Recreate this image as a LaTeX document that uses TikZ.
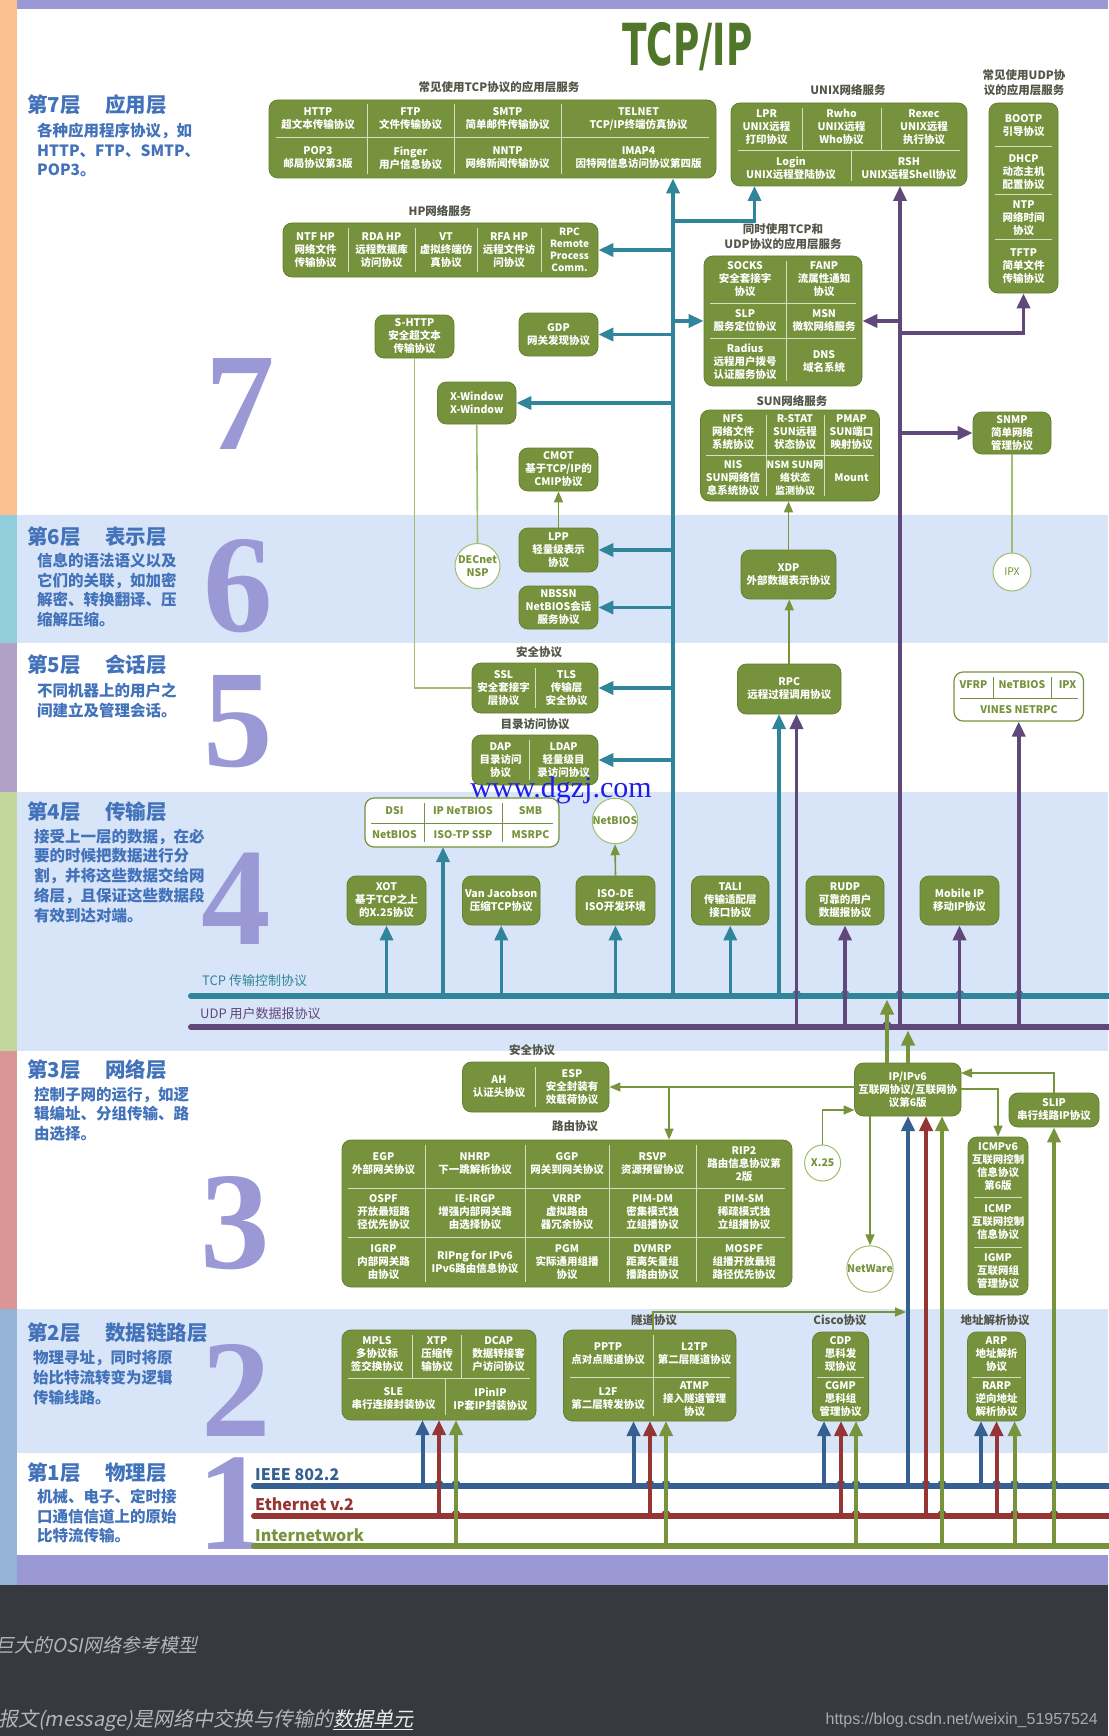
\documentclass[tikz,border=0pt]{standalone}
\usepackage{fontspec}
\setmainfont{Noto Sans CJK SC}
\newfontfamily\numfont{Liberation Serif}
\newfontfamily\headfont{Liberation Sans}
\newfontfamily\logofont{DejaVu Sans}
\newfontfamily\capfont{Noto Sans CJK SC}[FakeSlant=0.2]
\usetikzlibrary{arrows.meta}

\definecolor{boxgreen}{RGB}{118,146,60}
\definecolor{boxedge}{RGB}{100,128,48}
\definecolor{tcpc}{RGB}{49,133,155}
\definecolor{udpc}{RGB}{96,73,122}
\definecolor{ieeec}{RGB}{54,96,146}
\definecolor{ethc}{RGB}{150,54,52}
\definecolor{inetc}{RGB}{119,147,60}
\definecolor{lightline}{RGB}{160,190,112}
\definecolor{lav}{RGB}{155,152,214}
\definecolor{bandblue}{RGB}{216,228,248}
\definecolor{titlec}{RGB}{66,114,186}
\definecolor{labelc}{RGB}{82,86,72}
\definecolor{footbg}{RGB}{54,58,63}
\definecolor{capc}{RGB}{178,182,186}
\definecolor{capw}{RGB}{236,236,236}
\definecolor{urlc}{RGB}{168,170,172}
\definecolor{wmblue}{RGB}{30,30,235}
\definecolor{titlegreen}{RGB}{80,118,42}
\definecolor{st7}{RGB}{250,192,143}
\definecolor{st6}{RGB}{146,205,220}
\definecolor{st5}{RGB}{178,161,199}
\definecolor{st4}{RGB}{195,214,155}
\definecolor{st3}{RGB}{217,150,148}
\definecolor{st2}{RGB}{149,179,215}

\newcommand\cellfont{\fontsize{10.5}{13}\selectfont\bfseries}
\newcommand\pbox[7][gbox]{%
  \node[#1,minimum width={#5-#3},minimum height={#6-#4}] (#2) at ({(#3+#5)/2},{(#4+#6)/2}) {#7};}
\newcommand\hop[3]{\fill[#3] (#1,#2-1.5) circle (4.5);}

\tikzset{
  gbox/.style={draw=boxedge,line width=0.8pt,fill=boxgreen,rounded corners=9pt,
    text=white,font=\cellfont,align=center,inner sep=1pt},
  wbox/.style={draw=boxgreen,line width=1.2pt,fill=white,rounded corners=9pt},
  cell/.style={text=white,font=\cellfont,align=center,inner sep=0pt},
  wcell/.style={text=boxgreen,font=\cellfont,align=center,inner sep=0pt},
  sep/.style={draw=white!70!boxgreen,line width=1pt},
  wsep/.style={draw=boxgreen,line width=1pt},
  ring/.style={circle,draw=lightline,line width=1pt,fill=white,text=boxgreen,
    font=\cellfont,align=center,inner sep=0pt},
  grouplabel/.style={text=labelc,font=\fontsize{11.5}{14.5}\selectfont\bfseries,align=center,inner sep=0pt},
  layertitle/.style={anchor=west,text=titlec,font=\fontsize{20.5}{21}\selectfont\bfseries,inner sep=0pt},
  layerdesc/.style={anchor=north west,text=titlec,font=\fontsize{15.5}{19.9}\selectfont\bfseries,
    align=left,inner sep=0pt},
  bignum/.style={anchor=south,text=lav,font=\numfont\bfseries\fontsize{139}{139}\selectfont,inner sep=0pt},
  buslabel/.style={anchor=west,font=\fontsize{16}{16}\selectfont\bfseries,inner sep=0pt},
  bus/.style={line width=6pt,line cap=round},
  head/.style={-{Triangle[length=15pt,width=13pt]}},
  tcpa/.style={draw=tcpc,line width=3.5pt,head},
  udpa/.style={draw=udpc,line width=3.5pt,head},
  ieeea/.style={draw=ieeec,line width=4pt,head},
  etha/.style={draw=ethc,line width=4pt,head},
  ineta/.style={draw=inetc,line width=4pt,head},
  thina/.style={draw=inetc,line width=1.6pt,-{Triangle[length=11pt,width=9pt]}},
  thinl/.style={draw=lightline,line width=1.6pt},
}

\begin{document}
\begin{tikzpicture}[x=1pt,y=-1pt]
\useasboundingbox (0,0) rectangle (1108,1736);
% bands
\fill[white] (0,0) rectangle (1108,1585);
\fill[lav] (0,0) rectangle (1108,9);
\fill[bandblue] (17,515) rectangle (1108,643);
\fill[bandblue] (17,792) rectangle (1108,1051);
\fill[bandblue] (17,1309) rectangle (1108,1453);
\fill[lav] (0,1555) rectangle (1108,1585);
\fill[footbg] (0,1585) rectangle (1108,1736);
\fill[st7] (0,0) rectangle (17,515);
\fill[st6] (0,515) rectangle (17,643);
\fill[st5] (0,643) rectangle (17,792);
\fill[st4] (0,792) rectangle (17,1051);
\fill[st3] (0,1051) rectangle (17,1309);
\fill[st2] (0,1309) rectangle (17,1585);

\node[bignum] (n7) at (240,450) {7};
\node[bignum] (n6) at (238,633) {6};
\node[bignum] (n5) at (238,768) {5};
\node[bignum] (n4) at (236.5,945) {4};
\node[bignum] (n3) at (235.5,1270) {3};
\node[bignum] (n2) at (236.5,1437) {2};
\node[bignum] (n1) at (232,1550) {1};

\node[layertitle] (t7) at (27,105) {第7层\hspace{1.2em}应用层};
\node[layerdesc] (d7) at (37,122.5) {各种应用程序协议，如\\HTTP、FTP、SMTP、\\POP3。};
\node[layertitle] (t6) at (27,537) {第6层\hspace{1.2em}表示层};
\node[layerdesc] (d6) at (37,552.5) {信息的语法语义以及\\它们的关联，如加密\\解密、转换翻译、压\\缩解压缩。};
\node[layertitle] (t5) at (27,665) {第5层\hspace{1.2em}会话层};
\node[layerdesc] (d5) at (37,682.5) {不同机器上的用户之\\间建立及管理会话。};
\node[layertitle] (t4) at (27,812) {第4层\hspace{1.2em}传输层};
\node[layerdesc] (d4) at (34,828.5) {接受上一层的数据，在必\\要的时候把数据进行分\\割，并将这些数据交给网\\络层，且保证这些数据段\\有效到达对端。};
\node[layertitle] (t3) at (27,1070) {第3层\hspace{1.2em}网络层};
\node[layerdesc] (d3) at (34,1086.5) {控制子网的运行，如逻\\辑编址、分组传输、路\\由选择。};
\node[layertitle] (t2) at (27,1333) {第2层\hspace{1.2em}数据链路层};
\node[layerdesc] (d2) at (33,1350.5) {物理寻址，同时将原\\始比特流转变为逻辑\\传输线路。};
\node[layertitle] (t1) at (27,1473) {第1层\hspace{1.2em}物理层};
\node[layerdesc] (d1) at (37,1488.5) {机械、电子、定时接\\口通信信道上的原始\\比特流传输。};

\node[anchor=base,text=titlegreen,font=\logofont\bfseries\fontsize{58}{58}\selectfont,xscale=0.62,inner sep=0pt] (tcpip) at (687.5,66) {TCP/IP};

% group labels
\node[grouplabel] (lb-tcp) at (499,87) {常见使用TCP协议的应用层服务};
\node[grouplabel] (lb-hp) at (440,211) {HP网络服务};
\node[grouplabel] (lb-unix) at (848,90) {UNIX网络服务};
\node[grouplabel] (lb-udp) at (1024,82.5) {常见使用UDP协\\议的应用层服务};
\node[grouplabel] (lb-both) at (783,236.5) {同时使用TCP和\\UDP协议的应用层服务};
\node[grouplabel] (lb-sun) at (792,401) {SUN网络服务};
\node[grouplabel] (lb-sec5) at (539,652) {安全协议};
\node[grouplabel] (lb-dir) at (535,724) {目录访问协议};
\node[grouplabel] (lb-sec3) at (532,1050) {安全协议};
\node[grouplabel] (lb-route) at (575,1126) {路由协议};
\node[grouplabel] (lb-tun) at (654,1320) {隧道协议};
\node[grouplabel] (lb-cisco) at (840,1320) {Cisco协议};
\node[grouplabel] (lb-arp) at (995,1320) {地址解析协议};

% buses
\coordinate (tcpbus) at (0,996);
\coordinate (udpbus) at (0,1027);
\coordinate (tcpbot) at (0,999.5);
\coordinate (udpbot) at (0,1030.5);
\coordinate (ieeebus) at (0,1486);
\coordinate (ethbus) at (0,1516);
\coordinate (inetbus) at (0,1546);
\draw[bus,tcpc] (191,996) -- (1120,996);
\draw[bus,udpc] (191,1027) -- (1120,1027);
\draw[bus,ieeec] (254,1486) -- (1120,1486);
\draw[bus,ethc] (254,1516) -- (1120,1516);
\draw[bus,inetc] (254,1546) -- (1120,1546);
\node[anchor=west,text=tcpc,font=\fontsize{13}{13}\selectfont,inner sep=0pt] (tcplab) at (202,981) {TCP 传输控制协议};
\node[anchor=west,text=udpc,font=\fontsize{13}{13}\selectfont,inner sep=0pt] (udplab) at (200,1014) {UDP 用户数据报协议};
\node[buslabel,text=ieeec] (ieeelab) at (255,1475) {IEEE 802.2};
\node[buslabel,text=ethc] (ethlab) at (255,1504) {Ethernet v.2};
\node[buslabel,text=inetc] (inetlab) at (255,1535) {Internetwork};

\foreach \hx in {796.5,845,900,960,1019} {\hop{\hx}{996}{tcpc}}
\hop{887}{1027}{udpc}
\foreach \hx in {439,456,650,666,841,856,926,942,996.5,1014.6,1054} {\hop{\hx}{1486}{ieeec}}
\foreach \hx in {456,666,856,942,1014.6,1054} {\hop{\hx}{1516}{ethc}}

% layer 7
\pbox{tcpapps}{269}{100}{716}{178}{}
\draw[sep] (367,104) -- (367,174) (454,104) -- (454,174) (561,104) -- (561,174) (276,138) -- (709,138);
\node[cell] (c-http) at (318,119) {HTTP\\超文本传输协议};
\node[cell] (c-ftp) at (410.5,119) {FTP\\文件传输协议};
\node[cell] (c-smtp) at (507.5,119) {SMTP\\简单邮件传输协议};
\node[cell] (c-telnet) at (638.5,119) {TELNET\\TCP/IP终端仿真协议};
\node[cell] (c-pop3) at (318,158) {POP3\\邮局协议第3版};
\node[cell] (c-finger) at (410.5,158) {Finger\\用户信息协议};
\node[cell] (c-nntp) at (507.5,158) {NNTP\\网络新闻传输协议};
\node[cell] (c-imap) at (638.5,158) {IMAP4\\因特网信息访问协议第四版};

\pbox{hpbox}{283}{223}{598}{277}{}
\draw[sep] (348,228) -- (348,272) (415,228) -- (415,272) (477,228) -- (477,272) (541,228) -- (541,272);
\node[cell] (c-ntf) at (315.5,250) {NTF HP\\网络文件\\传输协议};
\node[cell] (c-rda) at (381.5,250) {RDA HP\\远程数据库\\访问协议};
\node[cell] (c-vt) at (446,250) {VT\\虚拟终端仿\\真协议};
\node[cell] (c-rfa) at (509,250) {RFA HP\\远程文件访\\问协议};
\node[cell,font=\fontsize{10}{12}\selectfont\bfseries] (c-rpchp) at (569.5,250) {RPC\\Remote\\Process\\Comm.};

\pbox{unix}{731}{103}{967}{186}{}
\draw[sep] (802,108) -- (802,151) (881,108) -- (881,151) (738,151) -- (960,151) (851,151) -- (851,181);
\node[cell] (c-lpr) at (766.5,127) {LPR\\UNIX远程\\打印协议};
\node[cell] (c-rwho) at (841.5,127) {Rwho\\UNIX远程\\Who协议};
\node[cell] (c-rexec) at (924,127) {Rexec\\UNIX远程\\执行协议};
\node[cell] (c-login) at (791,168.5) {Login\\UNIX远程登陆协议};
\node[cell] (c-rsh) at (909,168.5) {RSH\\UNIX远程Shell协议};

\pbox{udpapps}{989}{103}{1058}{293}{}
\draw[sep] (995,147) -- (1052,147) (995,195) -- (1052,195) (995,240) -- (1052,240);
\node[cell] (c-bootp) at (1023.5,125.5) {BOOTP\\引导协议};
\node[cell] (c-dhcp) at (1023.5,172) {DHCP\\动态主机\\配置协议};
\node[cell] (c-ntp) at (1023.5,218) {NTP\\网络时间\\协议};
\node[cell] (c-tftp) at (1023.5,266.5) {TFTP\\简单文件\\传输协议};

\pbox{both}{704}{256}{862}{386}{}
\draw[sep] (786,261) -- (786,381) (710,303) -- (856,303) (710,338) -- (856,338);
\node[cell] (c-socks) at (745,279.5) {SOCKS\\安全套接字\\协议};
\node[cell] (c-fanp) at (824,279.5) {FANP\\流属性通知\\协议};
\node[cell] (c-slp) at (745,320.5) {SLP\\服务定位协议};
\node[cell] (c-msn) at (824,320.5) {MSN\\微软网络服务};
\node[cell] (c-radius) at (745,362) {Radius\\远程用户拨号\\认证服务协议};
\node[cell] (c-dns) at (824,362) {DNS\\域名系统};

\pbox{shttp}{375}{315}{454}{358}{S-HTTP\\安全超文本\\传输协议}
\pbox{gdp}{519}{313}{598}{356}{GDP\\网关发现协议}
\pbox{xwin}{437.5}{382}{516}{424}{X-Window\\X-Window}
\pbox{cmot}{519}{448}{598}{491}{CMOT\\基于TCP/IP的\\CMIP协议}

\pbox{sun}{700.5}{410}{879.5}{501}{}
\draw[sep] (766,415) -- (766,496) (824,415) -- (824,496) (706,455) -- (874,455);
\node[cell] (c-nfs) at (733,432.5) {NFS\\网络文件\\系统协议};
\node[cell] (c-rstat) at (795,432.5) {R-STAT\\SUN远程\\状态协议};
\node[cell] (c-pmap) at (851.5,432.5) {PMAP\\SUN端口\\映射协议};
\node[cell] (c-nis) at (733,478) {NIS\\SUN网络信\\息系统协议};
\node[cell,font=\fontsize{10}{13}\selectfont\bfseries] (c-nsm) at (795,478) {NSM SUN网\\络状态\\监测协议};
\node[cell] (c-mount) at (851.5,478) {Mount};

\pbox{snmp}{973}{412}{1051}{454}{SNMP\\简单网络\\管理协议}
\node[ring,minimum size=38pt,font=\fontsize{10.5}{13}\selectfont] (ipx) at (1012,572) {IPX};

% layer 6
\node[ring,minimum size=45pt] (decnet) at (477.5,566) {DECnet\\NSP};
\pbox{lpp}{519}{528}{598}{572}{LPP\\轻量级表示\\协议}
\pbox{nbssn}{519}{586}{598}{629}{NBSSN\\NetBIOS会话\\服务协议}
\pbox{xdp}{741}{550}{836}{599}{XDP\\外部数据表示协议}

% layer 5
\pbox{ssltls}{472}{663}{598}{713}{}
\draw[sep] (535,668) -- (535,708);
\node[cell] (c-ssl) at (503.5,688) {SSL\\安全套接字\\层协议};
\node[cell] (c-tls) at (566.5,688) {TLS\\传输层\\安全协议};
\pbox{dirbox}{472}{735}{598}{785}{}
\draw[sep] (529,740) -- (529,780);
\node[cell] (c-dap) at (500.5,760) {DAP\\目录访问\\协议};
\node[cell] (c-ldap) at (563.5,760) {LDAP\\轻量级目\\录访问协议};
\pbox{rpc}{737.5}{664}{841}{714}{RPC\\远程过程调用协议}
\pbox[wbox]{vines}{954}{672}{1083.5}{721}{}
\draw[wsep] (993,677) -- (993,698) (1051.6,677) -- (1051.6,698) (960,698) -- (1078,698);
\node[wcell] (c-vfrp) at (973.5,685) {VFRP};
\node[wcell] (c-netbios2) at (1022,685) {NeTBIOS};
\node[wcell] (c-ipx2) at (1067.5,685) {IPX};
\node[wcell] (c-vines) at (1019,709.5) {VINES NETRPC};

\node[anchor=base,text=wmblue,font=\numfont\fontsize{30}{30}\selectfont,inner sep=0pt] (wm) at (561,797) {www.dgzj.com};

% layer 4
\pbox[wbox]{dsibox}{365}{798}{559}{847}{}
\draw[wsep] (424,803) -- (424,842) (502,803) -- (502,842) (371,823) -- (553,823);
\node[wcell] (c-dsi) at (394.5,811) {DSI};
\node[wcell] (c-ipnb) at (463,811) {IP NeTBIOS};
\node[wcell] (c-smb) at (530.5,811) {SMB};
\node[wcell] (c-nb) at (394.5,835) {NetBIOS};
\node[wcell] (c-isotp) at (463,835) {ISO-TP SSP};
\node[wcell] (c-msrpc) at (530.5,835) {MSRPC};
\node[ring,minimum size=44pt] (netbios) at (615,821) {NetBIOS};
\pbox{xot}{347}{876}{426}{925}{XOT\\基于TCP之上\\的X.25协议}
\pbox{vanj}{462.5}{876}{540}{925}{Van Jacobson\\压缩TCP协议}
\pbox{isode}{576}{876}{655}{925}{ISO-DE\\ISO开发环境}
\pbox{tali}{691.5}{876}{769}{925}{TALI\\传输适配层\\接口协议}
\pbox{rudp}{806}{876}{884}{925}{RUDP\\可靠的用户\\数据报协议}
\pbox{mobip}{920}{876}{999}{925}{Mobile IP\\移动IP协议}

% layer 3
\pbox{ahesp}{462.5}{1062}{609}{1112}{}
\draw[sep] (535,1067) -- (535,1107);
\node[cell] (c-ah) at (499,1087) {AH\\认证头协议};
\node[cell] (c-esp) at (572,1087) {ESP\\安全封装有\\效载荷协议};
\pbox{ipbox}{854.5}{1063}{961}{1116}{IP/IPv6\\互联网协议/互联网协\\议第6版}
\pbox{slip}{1009}{1093}{1099}{1127}{SLIP\\串行线路IP协议}
\pbox{route}{342}{1140}{792}{1287}{}
\draw[sep] (425,1145) -- (425,1282) (525,1145) -- (525,1282) (609,1145) -- (609,1282) (696,1145) -- (696,1282)
  (348,1188) -- (785,1188) (348,1237) -- (785,1237);
\node[cell] (c-egp) at (383.5,1164) {EGP\\外部网关协议};
\node[cell] (c-nhrp) at (475,1164) {NHRP\\下一跳解析协议};
\node[cell] (c-ggp) at (567,1164) {GGP\\网关到网关协议};
\node[cell] (c-rsvp) at (652.5,1164) {RSVP\\资源预留协议};
\node[cell] (c-rip2) at (744,1164) {RIP2\\路由信息协议第\\2版};
\node[cell] (c-ospf) at (383.5,1212.5) {OSPF\\开放最短路\\径优先协议};
\node[cell] (c-ieirgp) at (475,1212.5) {IE-IRGP\\增强内部网关路\\由选择协议};
\node[cell] (c-vrrp) at (567,1212.5) {VRRP\\虚拟路由\\器冗余协议};
\node[cell] (c-pimdm) at (652.5,1212.5) {PIM-DM\\密集模式独\\立组播协议};
\node[cell] (c-pimsm) at (744,1212.5) {PIM-SM\\稀疏模式独\\立组播协议};
\node[cell] (c-igrp) at (383.5,1262) {IGRP\\内部网关路\\由协议};
\node[cell] (c-ripng) at (475,1262) {RIPng for IPv6\\IPv6路由信息协议};
\node[cell] (c-pgm) at (567,1262) {PGM\\实际通用组播\\协议};
\node[cell] (c-dvmrp) at (652.5,1262) {DVMRP\\距离矢量组\\播路由协议};
\node[cell] (c-mospf) at (744,1262) {MOSPF\\组播开放最短\\路径优先协议};
\node[ring,minimum size=36pt] (x25) at (822.6,1163) {X.25};
\node[ring,minimum size=45pt] (netware) at (870,1269) {NetWare};
\pbox{icmpbox}{968}{1137}{1028}{1295}{}
\draw[sep] (974,1197) -- (1022,1197) (974,1247) -- (1022,1247);
\node[cell] (c-icmpv6) at (998,1167) {ICMPv6\\互联网控制\\信息协议\\第6版};
\node[cell] (c-icmp) at (998,1222) {ICMP\\互联网控制\\信息协议};
\node[cell] (c-igmp) at (998,1271) {IGMP\\互联网组\\管理协议};

% layer 2
\pbox{mplsbox}{342}{1330}{536}{1420}{}
\draw[sep] (412.5,1335) -- (412.5,1378) (461.4,1335) -- (461.4,1378) (348,1378) -- (530,1378) (445,1378) -- (445,1415);
\node[cell] (c-mpls) at (377,1354) {MPLS\\多协议标\\签交换协议};
\node[cell] (c-xtp) at (437,1354) {XTP\\压缩传\\输协议};
\node[cell] (c-dcap) at (498.7,1354) {DCAP\\数据转接客\\户访问协议};
\node[cell] (c-sle) at (393.5,1399) {SLE\\串行连接封装协议};
\node[cell] (c-ipinip) at (490.5,1399) {IPinIP\\IP套IP封装协议};
\pbox{tunnel}{563.5}{1330}{736}{1421}{}
\draw[sep] (653,1335) -- (653,1416) (570,1377) -- (730,1377);
\node[cell] (c-pptp) at (608,1353.5) {PPTP\\点对点隧道协议};
\node[cell] (c-l2tp) at (694.5,1353.5) {L2TP\\第二层隧道协议};
\node[cell] (c-l2f) at (608,1399) {L2F\\第二层转发协议};
\node[cell] (c-atmp) at (694.5,1399) {ATMP\\接入隧道管理\\协议};
\pbox{cisco}{812.5}{1332}{868.6}{1421}{}
\draw[sep] (817,1377) -- (864,1377);
\node[cell] (c-cdp) at (840.5,1354.5) {CDP\\思科发\\现协议};
\node[cell] (c-cgmp) at (840.5,1399) {CGMP\\思科组\\管理协议};
\pbox{arpbox}{967.5}{1332}{1025.5}{1421}{}
\draw[sep] (972,1377) -- (1021,1377);
\node[cell] (c-arp) at (996.5,1354.5) {ARP\\地址解析\\协议};
\node[cell] (c-rarp) at (996.5,1399) {RARP\\逆向地址\\解析协议};

% TCP connectors
\coordinate (trunk) at (673,996);
\coordinate (tsplit) at (673,221);
\coordinate (unixl) at (754.5,186);
\draw[tcpa] (trunk) -- (trunk |- tcpapps.south);
\draw[tcpa] (tsplit) -| (unixl);
\draw[tcpa] (trunk |- hpbox.east) -- (hpbox.east);
\draw[tcpa] (trunk |- both.west) -- (both.west);
\draw[tcpa] (trunk |- gdp.east) -- (gdp.east);
\draw[tcpa] (trunk |- xwin.east) -- (xwin.east);
\draw[tcpa] (trunk |- lpp.east) -- (lpp.east);
\draw[tcpa] (trunk |- nbssn.east) -- (nbssn.east);
\draw[tcpa] (trunk |- ssltls.east) -- (ssltls.east);
\draw[tcpa] (trunk |- dirbox.east) -- (dirbox.east);
\coordinate (dsiin) at (443,847);
\coordinate (rpctcp) at (779,714);
\draw[tcpa] (xot.south |- tcpbus) -- (xot.south);
\draw[tcpa] (dsiin |- tcpbus) -- (dsiin);
\draw[tcpa] (vanj.south |- tcpbus) -- (vanj.south);
\draw[tcpa] (isode.south |- tcpbus) -- (isode.south);
\draw[tcpa] (tali.south |- tcpbus) -- (tali.south);
\draw[tcpa] (rpctcp |- tcpbus) -- (rpctcp);

% UDP connectors
\coordinate (utrunk) at (900,1027);
\coordinate (unixr) at (900,186);
\coordinate (usplit) at (900,333);
\coordinate (rpcudp) at (796.5,714);
\draw[udpa] (utrunk) -- (unixr);
\draw[udpa] (utrunk |- both.east) -- (both.east);
\draw[udpa] (usplit) -| (udpapps.south);
\draw[udpa] (utrunk |- snmp.west) -- (snmp.west);
\draw[udpa] (rpcudp |- udpbus) -- (rpcudp);
\draw[udpa] (rudp.south |- udpbus) -- (rudp.south);
\draw[udpa] (mobip.south |- udpbus) -- (mobip.south);
\draw[udpa] (vines.south |- udpbus) -- (vines.south);

% IP up to the buses
\coordinate (iptcp) at (887,1063);
\coordinate (ipudp) at (908,1063);
\draw[ineta] (iptcp) -- (iptcp |- tcpbot);
\draw[ineta] (ipudp) -- (ipudp |- udpbot);

% thin links
\draw[thina] (lpp.north) -- (cmot.south);
\draw[thina] (xdp.north) -- (xdp.north |- sun.south);
\draw[thina] (rpc.north) -- (rpc.north |- xdp.south);
\draw[thina] (isode.north) -- (netbios.south);
\coordinate (ipl) at (854.5,1087);
\coordinate (rsplit) at (669,1087);
\coordinate (ipx25) at (854.5,1110);
\coordinate (ipnw) at (870,1116);
\coordinate (ipr) at (961,1089);
\coordinate (ipslip) at (961,1073);
\coordinate (tuntop) at (653,1330);
\coordinate (tunup) at (906,1312);
\draw[thina] (ipl) -- (ipl -| ahesp.east);
\draw[thina] (rsplit) -- (rsplit |- route.north);
\draw[thina] (x25.north) |- (ipx25);
\draw[thina] (ipnw) -- (netware.north);
\draw[thina] (ipr) -| (icmpbox.north);
\draw[thina] (slip.north) |- (ipslip);
\draw[thina] (tuntop) |- (tunup);
\draw[thinl] (shttp.south) |- (ssltls.west);
\draw[thinl] (xwin.south) -- (decnet.north);
\draw[thinl] (snmp.south) -- (ipx.north);

% physical links
\coordinate (mplsb) at (422.5,1420);
\coordinate (mplsr) at (439,1420);
\coordinate (mplsg) at (456,1420);
\coordinate (tunb) at (633.5,1421);
\coordinate (tunr) at (650,1421);
\coordinate (tung) at (666,1421);
\coordinate (cisb) at (824,1421);
\coordinate (cisr) at (841,1421);
\coordinate (cisg) at (856,1421);
\coordinate (arpb) at (981,1421);
\coordinate (arpr) at (996.5,1421);
\coordinate (arpg) at (1014.6,1421);
\coordinate (ipb) at (908,1116);
\coordinate (ipr2) at (926,1116);
\coordinate (ipg) at (942,1116);
\draw[ieeea] (mplsb |- ieeebus) -- (mplsb);
\draw[etha] (mplsr |- ethbus) -- (mplsr);
\draw[ineta] (mplsg |- inetbus) -- (mplsg);
\draw[ieeea] (tunb |- ieeebus) -- (tunb);
\draw[etha] (tunr |- ethbus) -- (tunr);
\draw[ineta] (tung |- inetbus) -- (tung);
\draw[ieeea] (cisb |- ieeebus) -- (cisb);
\draw[etha] (cisr |- ethbus) -- (cisr);
\draw[ineta] (cisg |- inetbus) -- (cisg);
\draw[ieeea] (arpb |- ieeebus) -- (arpb);
\draw[etha] (arpr |- ethbus) -- (arpr);
\draw[ineta] (arpg |- inetbus) -- (arpg);
\draw[ieeea] (ipb |- ieeebus) -- (ipb);
\draw[etha] (ipr2 |- ethbus) -- (ipr2);
\draw[ineta] (ipg |- inetbus) -- (ipg);
\draw[ineta] (slip.south |- inetbus) -- (slip.south);

% footer
\node[anchor=base west,text=capc,font=\capfont\fontsize{19}{19}\selectfont,inner sep=0pt] (cap1) at (-5,1652) {巨大的OSI网络参考模型};
\node[anchor=base west,text=capc,font=\capfont\fontsize{20}{20}\selectfont,inner sep=0pt] (cap2) at (-2,1726) {报文(message)是网络中交换与传输的\textcolor{capw}{\underline{数据单元}}};
\node[anchor=base east,text=urlc,font=\headfont\fontsize{16}{16}\selectfont,inner sep=0pt] (url) at (1098,1724) {https://blog.csdn.net/weixin\_51957524};
\end{tikzpicture}
\end{document}
